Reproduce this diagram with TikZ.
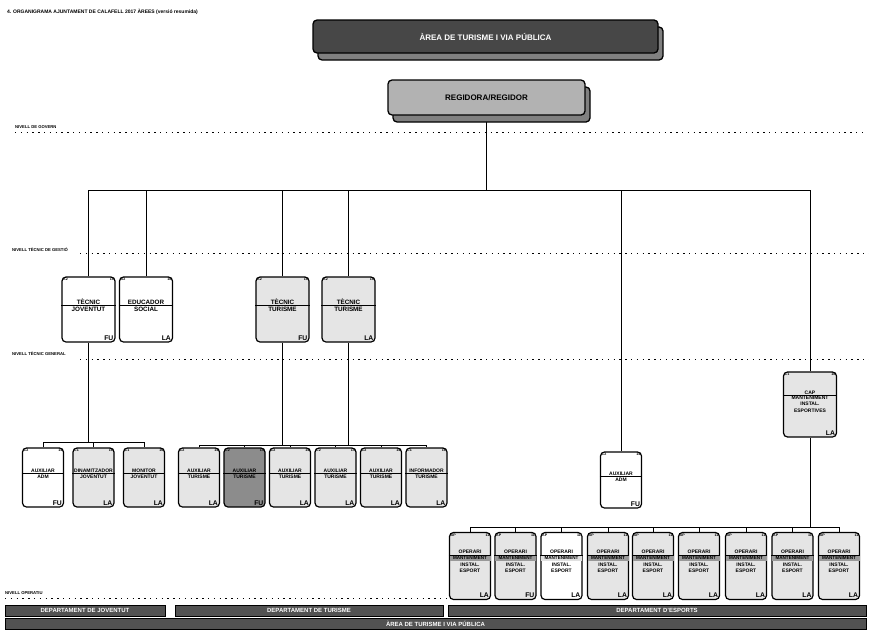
\documentclass[tikz,border=0pt]{standalone}
\usepackage{fontspec}
\setmainfont{Liberation Sans}
\usetikzlibrary{calc,shadows}
\pgfdeclarelayer{bg}
\pgfsetlayers{bg,main}
\def\tsz{5}
\tikzset{
 obox/.style={draw=black, line width=1.2pt, rounded corners=4pt, fill=black!10, inner sep=0pt},
 l2/.style={obox, minimum width=53pt, minimum height=65pt},
 l3/.style={obox, minimum width=41pt, minimum height=59pt},
 l4/.style={obox, minimum width=41pt, minimum height=67pt},
 plain/.style={fill=white},
 dark/.style={fill=black!45},
 conn/.style={draw=black, line width=1pt},
 sepline/.style={draw=black, line width=0.9pt},
 lvl/.style={draw=black, line width=0.7pt, dash pattern=on 1.3pt off 4.5pt},
 lvltxt/.style={font=\fontsize{4.2}{4.6}\selectfont\bfseries, anchor=west, inner sep=0pt},
 code/.style={font=\fontsize{3.6}{4}\selectfont\bfseries, inner sep=1.6pt},
 ttl/.style={font=\fontsize{\tsz}{\tsz}\selectfont\bfseries, inner sep=0pt, align=center},
 tag/.style={font=\fontsize{6.8}{7}\selectfont\bfseries, inner sep=2pt, anchor=south east},
 bar/.style={draw=black, line width=0.8pt, fill=black!68, text=white, font=\fontsize{6}{7}\selectfont\bfseries, inner sep=0pt},
 titlebox/.style={draw=black, line width=1.3pt, rounded corners=4pt, fill=black!72, text=white,
   font=\fontsize{8}{9}\selectfont\bfseries, minimum width=345pt, minimum height=33pt,
   drop shadow={shadow xshift=5pt, shadow yshift=-7pt, fill=black!50, draw=black, opacity=1}},
 regbox/.style={draw=black, line width=1.3pt, rounded corners=4pt, fill=black!30,
   font=\fontsize{8}{9}\selectfont\bfseries, minimum width=197pt, minimum height=35pt,
   drop shadow={shadow xshift=5pt, shadow yshift=-7pt, fill=black!50, draw=black, opacity=1}},
}
\newcommand\orgbox[8]{%
  \node[#3] (#1) at (#2) {};
  \node[code, anchor=north west] at (#1.north west) {#4};
  \node[code, anchor=north east] at (#1.north east) {#5};
  \coordinate (#1-s) at ($(#1.north)!0.44!(#1.south)$);
  \draw[sepline] (#1.west |- #1-s) -- (#1.east |- #1-s);
  \node[ttl, anchor=south] at ([yshift=0.9pt]#1-s) {#6};
  \node[ttl, anchor=north] at ([yshift=-0.9pt]#1-s) {#7};
  \node[tag] at (#1.south east) {#8};
}
\newcommand\opbox[5]{%
  \node[l4,#3] (#1) at (#2) {};
  \node[code, anchor=north west] at (#1.north west) {AP};
  \node[code, anchor=north east] at (#1.north east) {11};
  \coordinate (#1-s) at ($(#1.north)!0.34!(#1.south)$);
  \fill[#4] ($(#1.west |- #1-s)+(0.6,0)$) rectangle ($(#1.east |- #1-s)+(-0.6,6)$);
  \draw[sepline] (#1.west |- #1-s) -- (#1.east |- #1-s);
  \node[ttl, anchor=south] at ([yshift=0.9pt]#1-s) {OPERARI};
  \node[ttl, font=\fontsize{4.6}{5}\selectfont\bfseries] at ($(#1-s)+(0,3)$) {MANTENIMENT};
  \node[ttl, anchor=north] at ($(#1-s)+(0,8)$) {INSTAL.\\[1.2pt]ESPORT};
  \node[tag] at (#1.south east) {#5};
}
\begin{document}
\begin{tikzpicture}[x=1pt,y=-1pt]
\useasboundingbox (0,0) rectangle (869,629);

\node[anchor=west, inner sep=0pt, font=\fontsize{5}{6}\selectfont\bfseries] (hdr) at (7,12)
  {4. ORGANIGRAMA AJUNTAMENT DE CALAFELL 2017 ÀREES (versió resumida)};

% level guides
\node[lvltxt] (lv1) at (15,127) {NIVELL DE GOVERN};
\draw[lvl] (15,132.5) -- (862,132.5);
\node[lvltxt] (lv2) at (12,250) {NIVELL TÈCNIC DE GESTIÓ};
\draw[lvl] (80,253.5) -- (869,253.5);
\node[lvltxt] (lv3) at (12,354) {NIVELL TÈCNIC GENERAL};
\draw[lvl] (80,359) -- (869,359);
\node[lvltxt] (lv4) at (5,593) {NIVELL OPERATIU};
\draw[lvl] (5,598) -- (450,598);

% top
\node[titlebox] (area) at (485.5,36.5) {ÀREA DE TURISME I VIA PÚBLICA};
\node[regbox] (reg) at (486.5,97.5) {REGIDORA/REGIDOR};

% level 2
\def\tsz{6.3}
\orgbox{tj}{88.5,309.5}{l2,plain}{A2}{18}{TÈCNIC}{JOVENTUT}{FU}
\orgbox{es}{146,309.5}{l2,plain}{A2}{18}{EDUCADOR}{SOCIAL}{LA}
\orgbox{ttA}{282.5,309.5}{l2}{A2}{18}{TÈCNIC}{TURISME}{FU}
\orgbox{ttB}{348.5,309.5}{l2}{A2}{18}{TÈCNIC}{TURISME}{LA}

% level 3
\def\tsz{5}
\orgbox{axA}{43,477.5}{l3,plain}{C2}{14}{AUXILIAR}{ADM}{FU}
\orgbox{din}{93.5,477.5}{l3}{C1}{16}{DINAMITZADOR}{JOVENTUT}{LA}
\orgbox{mon}{144,477.5}{l3}{C1}{16}{MONITOR}{JOVENTUT}{LA}

\orgbox{atA}{199,477.5}{l3}{C2}{14}{AUXILIAR}{TURISME}{LA}
\orgbox{atB}{244.5,477.5}{l3,dark}{C2}{14}{AUXILIAR}{TURISME}{FU}
\orgbox{atC}{290,477.5}{l3}{C2}{14}{AUXILIAR}{TURISME}{LA}
\orgbox{atD}{335.5,477.5}{l3}{C2}{14}{AUXILIAR}{TURISME}{LA}
\orgbox{atE}{381,477.5}{l3}{C2}{14}{AUXILIAR}{TURISME}{LA}
\orgbox{inf}{426.5,477.5}{l3}{C1}{16}{INFORMADOR}{TURISME}{LA}

\orgbox{axB}{621,480}{l3,plain,minimum height=56pt}{C2}{14}{AUXILIAR}{ADM}{FU}

% cap manteniment
\node[l2, minimum height=65pt] (cap) at (810,404.5) {};
\node[code, anchor=north west] at (cap.north west) {C1};
\node[code, anchor=north east] at (cap.north east) {18};
\coordinate (cap-s) at ($(cap.north)!0.36!(cap.south)$);
\draw[sepline] (cap.west |- cap-s) -- (cap.east |- cap-s);
\node[ttl, anchor=south] at ([yshift=0.9pt]cap-s) {CAP};
\node[ttl, anchor=north] at ([yshift=-0.9pt]cap-s) {MANTENIMENT\\[1.2pt]INSTAL.\\[1.2pt]ESPORTIVES};
\node[tag] at (cap.south east) {LA};

% operators
\def\tsz{5}
\opbox{opA}{470,566}{}{black!40}{LA}
\opbox{opB}{515.5,566}{}{black!40}{FU}
\opbox{opC}{561.5,566}{plain}{black!12}{LA}
\opbox{opD}{608,566}{}{black!40}{LA}
\opbox{opE}{653,566}{}{black!40}{LA}
\opbox{opF}{699,566}{}{black!40}{LA}
\opbox{opG}{746,566}{}{black!40}{LA}
\opbox{opH}{792.5,566}{}{black!40}{LA}
\opbox{opI}{839,566}{}{black!40}{LA}

% bottom bars
\node[bar, minimum width=160pt, minimum height=11pt] (dj) at (85,610.5) {DEPARTAMENT DE JOVENTUT};
\node[bar, minimum width=268pt, minimum height=11pt] (dt) at (309,610.5) {DEPARTAMENT DE TURISME};
\node[bar, minimum width=418pt, minimum height=11pt] (de) at (657,610.5) {DEPARTAMENT D'ESPORTS};
\node[bar, minimum width=861pt, minimum height=11pt] (ar) at (435.5,623.5) {ÀREA DE TURISME I VIA PÚBLICA};

% connectors
\begin{pgfonlayer}{bg}
\fill[white] (0,0) rectangle (869,629);
\coordinate (busA) at (486.5,190);
\draw[conn] (reg.south) -- (busA);
\foreach \n in {tj,es,ttA,ttB,axB,cap} \draw[conn] (\n.north) |- (busA);
\coordinate (busB) at (88.5,442);
\draw[conn] (tj.south) -- (busB);
\foreach \n in {axA,din,mon} \draw[conn] (\n.north) |- (busB);
\coordinate (busC) at (282.5,445);
\draw[conn] (ttA.south) -- (busC);
\draw[conn] (ttB.south) -- (ttB.south |- busC);
\foreach \n in {atA,atB,atC,atD,atE,inf} \draw[conn] (\n.north) |- (busC);
\coordinate (busD) at (810,527);
\draw[conn] (cap.south) -- (busD);
\foreach \n in {opA,opB,opC,opD,opE,opF,opG,opH,opI} \draw[conn] (\n.north) |- (busD);
\end{pgfonlayer}
\end{tikzpicture}
\end{document}
